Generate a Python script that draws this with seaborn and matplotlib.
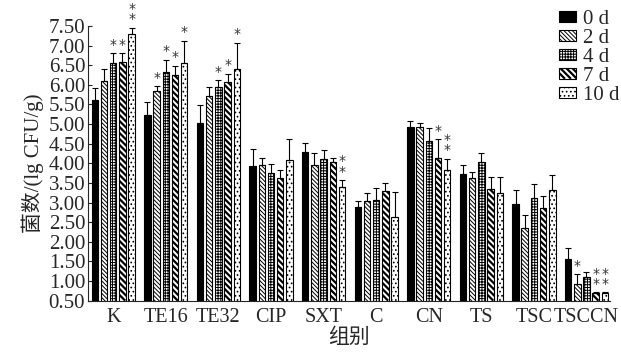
import numpy as np
import pandas as pd
import matplotlib
matplotlib.use("Agg")
import matplotlib.pyplot as plt
from matplotlib.collections import LineCollection
from matplotlib.transforms import IdentityTransform
import seaborn as sns

groups = ["K", "TE16", "TE32", "CIP", "SXT", "C", "CN", "TS", "TSC", "TSCCN"]
days = ["0 d", "2 d", "4 d", "7 d", "10 d"]

# 菌数 均值 (每个时间点一列, 按组排列)
d0 = [5.60, 5.23, 5.03, 3.93, 4.29, 2.88, 4.93, 3.74, 2.96, 1.55]
d2 = [6.10, 5.84, 5.72, 3.96, 3.95, 3.03, 4.93, 3.63, 2.34, 0.93]
d4 = [6.56, 6.33, 5.94, 3.76, 4.10, 3.07, 4.58, 4.04, 3.12, 1.10]
d7 = [6.58, 6.25, 6.07, 3.62, 4.03, 3.29, 4.14, 3.35, 2.85, 0.69]
d10 = [7.30, 6.55, 6.40, 4.09, 3.39, 2.63, 3.82, 3.24, 3.31, 0.69]

# 误差 (SD)
e0 = [0.31, 0.33, 0.45, 0.43, 0.22, 0.16, 0.16, 0.22, 0.36, 0.28]
e2 = [0.29, 0.12, 0.22, 0.17, 0.31, 0.21, 0.09, 0.16, 0.34, 0.24]
e4 = [0.24, 0.30, 0.18, 0.22, 0.25, 0.29, 0.33, 0.22, 0.34, 0.12]
e7 = [0.22, 0.23, 0.21, 0.21, 0.11, 0.22, 0.47, 0.31, 0.32, 0.02]
e10 = [0.15, 0.57, 0.67, 0.52, 0.18, 0.65, 0.30, 0.40, 0.39, 0.02]

# 显著性标记
s0 = ["", "", "", "", "", "", "", "", "", ""]
s2 = ["", "*", "", "", "", "", "", "", "", "*"]
s4 = ["*", "*", "*", "", "", "", "", "", "", ""]
s7 = ["*", "*", "*", "", "", "", "*", "", "", "**"]
s10 = ["**", "*", "*", "", "**", "", "**", "", "", "**"]

means = [d0, d2, d4, d7, d10]
errs = [e0, e2, e4, e7, e10]
stars = [s0, s2, s4, s7, s10]

rows = []
for day, vals in zip(days, means):
    for g, v in zip(groups, vals):
        rows.append({"组别": g, "时间": day, "值": v})
df = pd.DataFrame(rows)

sns.set_style("ticks")
plt.rcParams["font.family"] = ["Liberation Serif", "Noto Sans CJK SC", "DejaVu Sans"]
plt.rcParams["hatch.linewidth"] = 0.7

fig = plt.figure(figsize=(6.21, 3.55), dpi=100)
ax = fig.add_axes([0.1417, 0.153, 0.840, 0.774])

pal = ["black", "white", "white", "white", "white"]
sns.barplot(data=df, x="组别", y="值", hue="时间", hue_order=days, palette=pal,
            errorbar=None, width=0.875, gap=0.3, edgecolor="black", linewidth=0.8,
            legend=False, ax=ax)
bars = list(ax.containers)

hatches = [None, "\\\\\\\\\\\\\\\\", "++++++", None, "...."]
for cont, h in zip(bars, hatches):
    for bar in cont:
        if h:
            bar.set_hatch(h)

for cont, vals, er, st in zip(bars, means, errs, stars):
    xs = np.array([b.get_x() + b.get_width() / 2 for b in cont])
    vals = np.array(vals)
    er = np.array(er)
    ax.errorbar(xs, vals, yerr=[np.zeros_like(er), er], fmt="none", ecolor="black",
                elinewidth=0.8, capsize=2.5, capthick=0.8, zorder=5)
    for x, v, e, s in zip(xs, vals, er, st):
        if s:
            txt = "\n".join(list(s))
            ax.text(x, v + e + 0.04, txt, ha="center", va="bottom", fontsize=10,
                    color="#333333", linespacing=0.65, family="DejaVu Sans")

ax.set_ylim(0.5, 7.5)
ax.set_xlim(-0.48, 9.44)
ax.set_yticks(np.arange(0.5, 7.51, 0.5))
ax.set_yticklabels([f"{t:.2f}" for t in np.arange(0.5, 7.51, 0.5)])
ax.tick_params(axis="y", direction="in", length=3, labelsize=15, pad=2)
ax.tick_params(axis="x", length=0, labelsize=14.5, pad=5)
sns.despine(ax=ax)
ax.spines["left"].set_linewidth(0.8)
ax.spines["bottom"].set_linewidth(0.8)

ax.set_ylabel("菌数/(lg CFU/g)", fontsize=15, labelpad=3)
ax.set_xlabel("组别", fontsize=15, labelpad=1)

handles = [c.patches[0] for c in bars]
leg = fig.legend(handles, days, loc="upper left", bbox_to_anchor=(0.900, 0.972),
                 frameon=False, fontsize=15, handlelength=0.8, handleheight=0.4,
                 handletextpad=0.35, labelspacing=0.0, borderpad=0, borderaxespad=0)

fig.canvas.draw()


# 7 d 的粗斜条纹 (裁剪到柱子内)
def add_stripes(patch, parent, ymin, z):
    bb = patch.get_window_extent()
    y0 = max(bb.y0, ymin)
    h = bb.y1 - y0
    if h <= 0:
        return
    segs = []
    c = bb.x0 - h - 6
    while c < bb.x1 + 6:
        segs.append([(c, bb.y1), (c + h, y0)])
        c += 6.0
    lc = LineCollection(segs, colors="black", linewidths=1.6,
                        transform=IdentityTransform(), zorder=z)
    parent.add_artist(lc)
    lc.set_clip_path(patch)


ax_bottom = ax.get_window_extent().y0
for bar in bars[3]:
    add_stripes(bar, ax, ax_bottom, bar.get_zorder() + 0.1)
add_stripes(leg.get_patches()[3], fig, 0, 10)

fig.savefig("out.png", dpi=100)
